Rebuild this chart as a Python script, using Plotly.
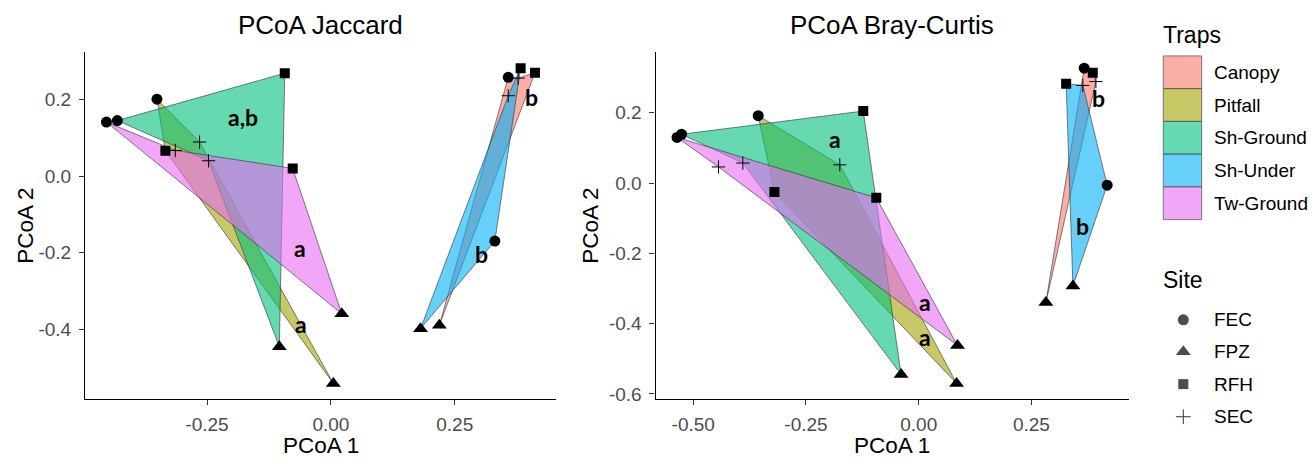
import plotly.graph_objects as go

W, H = 1312, 463

TRAPS = ["Canopy", "Pitfall", "Sh-Ground", "Sh-Under", "Tw-Ground"]
TRAP_COLORS = ["#F8766D", "#A3A500", "#00BF7D", "#00B0F6", "#E76BF3"]
SITES = ["FEC", "FPZ", "RFH", "SEC"]
SITE_SYMBOLS = ["circle", "triangle-up", "square", "cross-thin"]

# ---- PCoA Jaccard: coordinates per trap, in SITES order (FEC, FPZ, RFH, SEC)
jac_canopy_x = [0.358, 0.219, 0.412, 0.378]
jac_canopy_y = [0.258, -0.390, 0.270, 0.256]
jac_pitfall_x = [-0.351, 0.005, -0.334, -0.265]
jac_pitfall_y = [0.201, -0.542, 0.066, 0.089]
jac_shground_x = [-0.431, -0.104, -0.093, -0.247]
jac_shground_y = [0.145, -0.446, 0.269, 0.040]
jac_shunder_x = [0.331, 0.181, 0.383, 0.358]
jac_shunder_y = [-0.170, -0.399, 0.282, 0.210]
jac_twground_x = [-0.453, 0.022, -0.077, -0.314]
jac_twground_y = [0.141, -0.360, 0.020, 0.067]

# ---- PCoA Bray-Curtis
bc_canopy_x = [0.367, 0.282, 0.386, 0.393]
bc_canopy_y = [0.327, -0.340, 0.314, 0.289]
bc_pitfall_x = [-0.356, 0.084, -0.320, -0.175]
bc_pitfall_y = [0.192, -0.570, -0.025, 0.052]
bc_shground_x = [-0.526, -0.039, -0.123, -0.390]
bc_shground_y = [0.139, -0.545, 0.205, 0.057]
bc_shunder_x = [0.418, 0.342, 0.327, 0.364]
bc_shunder_y = [-0.006, -0.293, 0.283, 0.278]
bc_twground_x = [-0.536, 0.086, -0.094, -0.444]
bc_twground_y = [0.130, -0.462, -0.042, 0.046]

# order in which each trap's polygon visits its sites
jac_poly_order = [["FEC", "SEC", "RFH", "FPZ"], ["FEC", "SEC", "FPZ", "RFH"],
                  ["FEC", "RFH", "FPZ", "SEC"], ["FPZ", "SEC", "RFH", "FEC"],
                  ["FEC", "SEC", "RFH", "FPZ"]]
bc_poly_order = [["FEC", "RFH", "SEC", "FPZ"], ["FEC", "SEC", "FPZ", "RFH"],
                 ["FEC", "RFH", "FPZ", "SEC"], ["RFH", "SEC", "FEC", "FPZ"],
                 ["FEC", "RFH", "FPZ", "SEC"]]

# group letters
jac_letters = ["a,b", "a", "a", "b", "b"]
jac_letter_x = [-0.177, -0.062, -0.060, 0.404, 0.305]
jac_letter_y = [0.154, -0.187, -0.386, 0.206, -0.205]
bc_letters = ["a", "a", "a", "b", "b"]
bc_letter_x = [-0.186, 0.014, 0.014, 0.399, 0.364]
bc_letter_y = [0.126, -0.338, -0.437, 0.243, -0.122]

# tick labels
jac_xticks = [-0.25, 0.0, 0.25]
jac_xtext = ["-0.25", "0.00", "0.25"]
jac_yticks = [-0.4, -0.2, 0.0, 0.2]
jac_ytext = ["-0.4", "-0.2", "0.0", "0.2"]
bc_xticks = [-0.5, -0.25, 0.0, 0.25]
bc_xtext = ["-0.50", "-0.25", "0.00", "0.25"]
bc_yticks = [-0.6, -0.4, -0.2, 0.0, 0.2]
bc_ytext = ["-0.6", "-0.4", "-0.2", "0.0", "0.2"]

JAC_X = [jac_canopy_x, jac_pitfall_x, jac_shground_x, jac_shunder_x, jac_twground_x]
JAC_Y = [jac_canopy_y, jac_pitfall_y, jac_shground_y, jac_shunder_y, jac_twground_y]
BC_X = [bc_canopy_x, bc_pitfall_x, bc_shground_x, bc_shunder_x, bc_twground_x]
BC_Y = [bc_canopy_y, bc_pitfall_y, bc_shground_y, bc_shunder_y, bc_twground_y]

FONT = "Liberation Sans, Arial, sans-serif"
ALPHA = 0.6
EDGE = "rgba(45,45,45,0.85)"


def rgba(hx, a):
    hx = hx.lstrip("#")
    r, g, b = int(hx[0:2], 16), int(hx[2:4], 16), int(hx[4:6], 16)
    return f"rgba({r},{g},{b},{a})"


def px_x(p):
    return p / W


def px_y(p):
    return 1 - p / H


fig = go.Figure()

SYM_SIZE = {"circle": 11, "triangle-up": 13, "square": 10, "cross-thin": 9.5}


def add_panel(XS, YS, orders, xa, ya):
    for i, trap in enumerate(TRAPS):
        xs, ys = XS[i], YS[i]
        idx = [SITES.index(s) for s in orders[i]]
        px = [xs[j] for j in idx] + [xs[idx[0]]]
        py = [ys[j] for j in idx] + [ys[idx[0]]]
        fig.add_trace(go.Scatter(
            x=px, y=py, mode="lines", fill="toself",
            fillcolor=rgba(TRAP_COLORS[i], ALPHA),
            line=dict(color=EDGE, width=0.7),
            xaxis=xa, yaxis=ya, showlegend=False, hoverinfo="skip"))
    for k, site in enumerate(SITES):
        sym = SITE_SYMBOLS[k]
        thin = sym == "cross-thin"
        fig.add_trace(go.Scatter(
            x=[XS[i][k] for i in range(len(TRAPS))],
            y=[YS[i][k] for i in range(len(TRAPS))],
            mode="markers",
            marker=dict(symbol=sym, size=SYM_SIZE[sym], color="black",
                        line=dict(color="black", width=1 if thin else 0)),
            xaxis=xa, yaxis=ya, showlegend=False, hoverinfo="skip"))


def add_letters(texts, lx, ly, xa, ya):
    for t, x, y in zip(texts, lx, ly):
        fig.add_annotation(x=x, y=y, xref=xa, yref=ya, text=f"<b>{t}</b>",
                           showarrow=False,
                           font=dict(family="Lato, Open Sans, sans-serif", size=23, color="black"))


def data_range(XS):
    allv = [v for arr in XS for v in arr]
    lo, hi = min(allv), max(allv)
    pad = (hi - lo) * 0.05
    return [lo - pad, hi + pad]


add_panel(JAC_X, JAC_Y, jac_poly_order, "x", "y")
add_panel(BC_X, BC_Y, bc_poly_order, "x2", "y2")
add_letters(jac_letters, jac_letter_x, jac_letter_y, "x", "y")
add_letters(bc_letters, bc_letter_x, bc_letter_y, "x2", "y2")

# ---- legend markers on an overlay pixel axis
LEG_SYM_X = 1183.3
LEG_ROW_Y = [323.3, 355.5, 388.3, 421.3]
fig.add_trace(go.Scatter(
    x=[LEG_SYM_X] * 3, y=LEG_ROW_Y[:3], mode="markers",
    marker=dict(symbol=SITE_SYMBOLS[:3], size=[SYM_SIZE[s] for s in SITE_SYMBOLS[:3]],
                color="black", line=dict(width=0)),
    xaxis="x3", yaxis="y3", showlegend=False, hoverinfo="skip"))
fig.add_trace(go.Scatter(
    x=[LEG_SYM_X], y=[LEG_ROW_Y[3]], mode="markers",
    marker=dict(symbol="cross-thin", size=SYM_SIZE["cross-thin"] + 1, color="black",
                line=dict(color="#333333", width=1)),
    xaxis="x3", yaxis="y3", showlegend=False, hoverinfo="skip"))

# legend key boxes for traps
box_x0, box_x1 = 1163.3, 1201.7
box_top, box_h = 56.5, 33.1
for i, trap in enumerate(TRAPS):
    y0 = box_top + i * box_h
    fig.add_shape(type="rect", xref="paper", yref="paper",
                  x0=px_x(box_x0), x1=px_x(box_x1), y0=px_y(y0), y1=px_y(y0 + box_h),
                  fillcolor=rgba(TRAP_COLORS[i], ALPHA),
                  line=dict(color="rgba(80,80,80,0.9)", width=0.8))
    fig.add_annotation(x=px_x(1212), y=px_y(y0 + box_h / 2), xref="paper", yref="paper",
                       text=trap, showarrow=False, xanchor="left", yanchor="middle",
                       font=dict(family=FONT, size=19, color="black"))
for k, site in enumerate(SITES):
    fig.add_annotation(x=px_x(1212), y=px_y(LEG_ROW_Y[k]), xref="paper", yref="paper",
                       text=site, showarrow=False, xanchor="left", yanchor="middle",
                       font=dict(family=FONT, size=19, color="black"))
fig.add_annotation(x=px_x(1161), y=px_y(35), xref="paper", yref="paper", text="Traps",
                   showarrow=False, xanchor="left", yanchor="middle",
                   font=dict(family=FONT, size=23, color="black"))
fig.add_annotation(x=px_x(1161), y=px_y(283), xref="paper", yref="paper", text="Site",
                   showarrow=False, xanchor="left", yanchor="middle",
                   font=dict(family=FONT, size=23, color="black"))

# ---- panel titles and axis titles
L_X0, L_X1 = 85.0, 556.4
R_X0, R_X1 = 655.5, 1128.7
Y_TOP, Y_BOT = 53.0, 403.5
for cx, title in [((L_X0 + L_X1) / 2, "PCoA Jaccard"), ((R_X0 + R_X1) / 2, "PCoA Bray-Curtis")]:
    fig.add_annotation(x=px_x(cx), y=px_y(25), xref="paper", yref="paper", text=title,
                       showarrow=False, xanchor="center", yanchor="middle",
                       font=dict(family=FONT, size=26, color="black"))
    fig.add_annotation(x=px_x(cx), y=px_y(450), xref="paper", yref="paper", text="PCoA 1",
                       showarrow=False, xanchor="center", yanchor="middle",
                       font=dict(family=FONT, size=22.5, color="black"))
for cx in [26, 591]:
    fig.add_annotation(x=px_x(cx), y=px_y((Y_TOP + Y_BOT) / 2), xref="paper", yref="paper",
                       text="PCoA 2", showarrow=False, textangle=-90,
                       xanchor="center", yanchor="middle",
                       font=dict(family=FONT, size=22.5, color="black"))

axis_common = dict(showline=True, linecolor="black", linewidth=1.1, ticks="outside",
                   ticklen=5, tickwidth=1.1, tickcolor="#333333", showgrid=False,
                   zeroline=False, tickfont=dict(family=FONT, size=19, color="#4D4D4D"),
                   tickmode="array")

fig.update_layout(
    width=W, height=H, margin=dict(l=0, r=0, t=0, b=0),
    paper_bgcolor="white", plot_bgcolor="rgba(0,0,0,0)",
    showlegend=False,
    xaxis=dict(domain=[px_x(L_X0), px_x(L_X1)], range=data_range(JAC_X), anchor="y",
               tickvals=jac_xticks, ticktext=jac_xtext, ticklabelstandoff=3, **axis_common),
    yaxis=dict(domain=[px_y(Y_BOT), px_y(Y_TOP)], range=data_range(JAC_Y), anchor="x",
               tickvals=jac_yticks, ticktext=jac_ytext, ticklabelstandoff=4, **axis_common),
    xaxis2=dict(domain=[px_x(R_X0), px_x(R_X1)], range=data_range(BC_X), anchor="y2",
                tickvals=bc_xticks, ticktext=bc_xtext, ticklabelstandoff=3, **axis_common),
    yaxis2=dict(domain=[px_y(Y_BOT), px_y(Y_TOP)], range=data_range(BC_Y), anchor="x2",
                tickvals=bc_yticks, ticktext=bc_ytext, ticklabelstandoff=4, **axis_common),
    xaxis3=dict(domain=[0, 1], range=[0, W], visible=False, fixedrange=True),
    yaxis3=dict(domain=[0, 1], range=[H, 0], visible=False, fixedrange=True, anchor="x3"),
)

fig.write_html("out.html",
               config={"displayModeBar": False},
               post_script="document.body.style.margin='0px';document.body.style.overflow='hidden';")
